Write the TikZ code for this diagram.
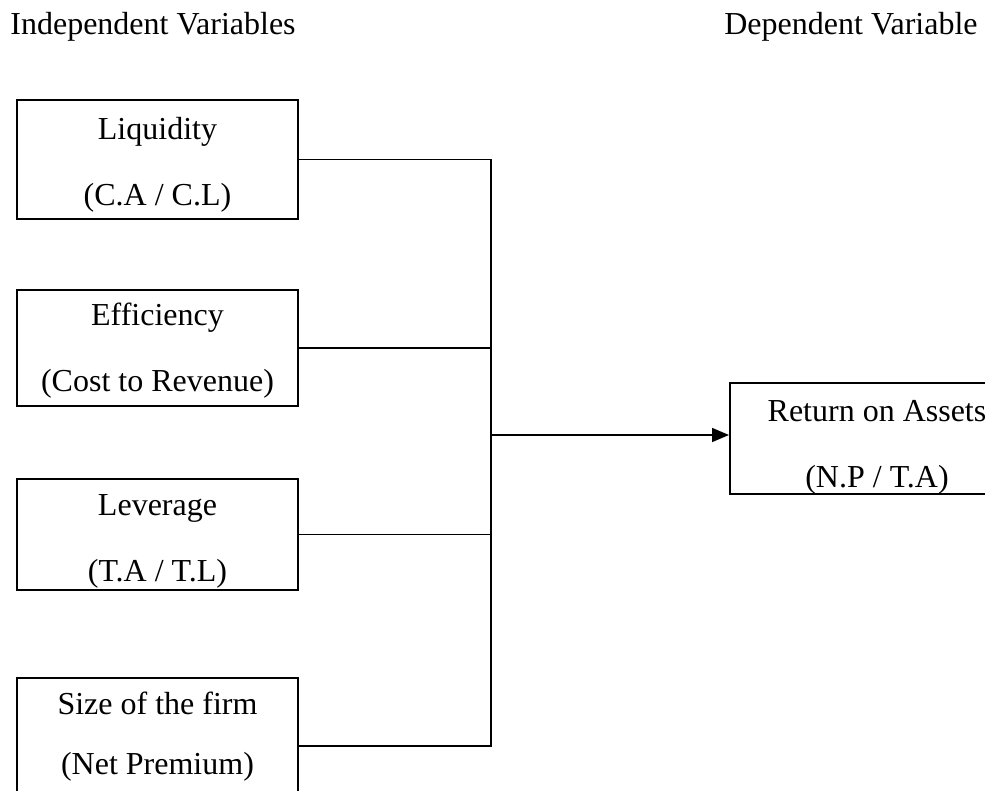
\documentclass[tikz,border=0pt]{standalone}
\usepackage{fontspec}
\setmainfont{Liberation Serif}
\usetikzlibrary{arrows.meta,positioning}

\begin{document}
\begin{tikzpicture}[
        x=0.5pt, y=-0.5pt,
        every node/.style={font=\fontsize{16}{33}\selectfont, inner sep=0pt},
        varbox/.style={draw, line width=1pt, align=center, minimum width=140.5pt},
        link/.style={line width=0.8pt},
        arrow/.style={-{Triangle[length=8.5pt, width=7pt]}, line width=0.8pt}
    ]
        \clip (0,0) rectangle (985,791);

        \node[anchor=base west] (indep) at (10,35) {Independent Variables};
        \node[anchor=base east] (dep) at (978,35) {Dependent Variable};

        % text height/depth fix where the two lines sit in each box
        \node[varbox, text height=53pt, text depth=6.5pt] (liq) at (157.5,159.5) {Liquidity\\(C.A / C.L)};
        \node[varbox, text height=50.5pt, text depth=7.5pt, below=34.5pt of liq] (eff) {Efficiency\\(Cost to Revenue)};
        \node[varbox, text height=51pt, text depth=4.5pt, below=35.5pt of eff] (lev) {Leverage\\(T.A / T.L)};
        \node[varbox, text height=48pt, text depth=20pt, below=43pt of lev,
            font=\fontsize{16}{30}\selectfont] (size) {Size of the firm\\(Net Premium)};

        \node[varbox, minimum width=147pt, text height=52pt, text depth=3.5pt] (roa) at (877,438.5) {Return on Assets\\(N.P / T.A)};

        \coordinate (bus) at (491,435);
        \draw[link] (liq.east) -- (liq.east -| bus) |- (size.east);
        \draw[link] (eff.east) -- (eff.east -| bus);
        \draw[link] (lev.east) -- (lev.east -| bus);
        \draw[arrow] (bus) -- (bus -| roa.west);
    \end{tikzpicture}
\end{document}
